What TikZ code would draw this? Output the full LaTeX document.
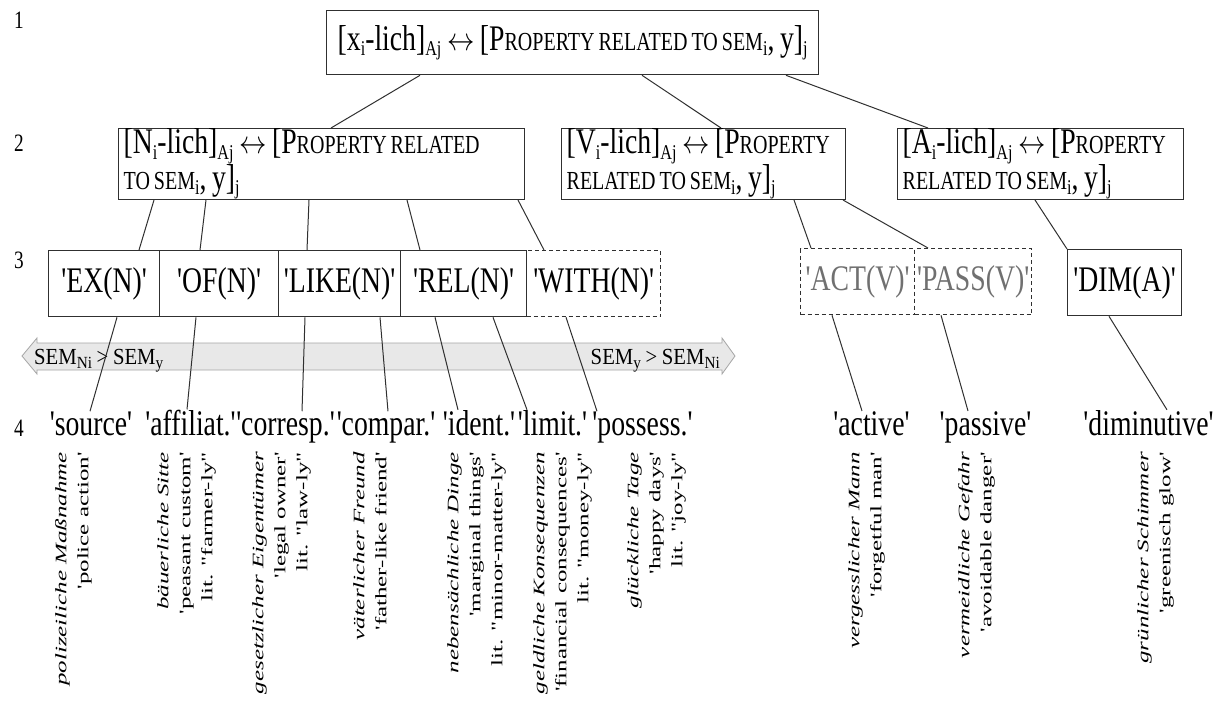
\documentclass[tikz,border=0pt]{standalone}
\usepackage{fontspec}
\newfontfamily\mf{Liberation Serif}[FakeStretch=0.77, WordSpace=0.8]
\newfontfamily\bandf{Liberation Serif}[FakeStretch=0.9, WordSpace=0.9]
\newfontfamily\rotf{Liberation Serif}[FakeStretch=1.56]
\newcommand\sbx[1]{\raisebox{-0.15em}{\fontsize{21}{21}\selectfont #1}}
\newcommand\smc[1]{{\fontsize{26}{26}\selectfont #1}}
\newcommand\sbb[1]{\raisebox{-0.18em}{\fontsize{17}{17}\selectfont #1}}
\newcommand\lr{\scalebox{1.1}[1.3]{$\leftrightarrow$}}
\newcommand\natsp{\spaceskip=0pt\xspaceskip=0pt\relax}
\definecolor{txtgray}{HTML}{707070}
\definecolor{linec}{HTML}{303030}
\tikzset{
  box/.style={draw=linec, line width=1.3pt, inner sep=0pt, font=\mf\fontsize{36}{27}\selectfont},
  dbox/.style={box, dash pattern=on 4pt off 3pt},
  tbox/.style={box, anchor=north west, align=left, inner xsep=5pt},
  conn/.style={draw=linec, line width=1pt},
  lab/.style={font=\mf\fontsize{36}{36}\selectfont, inner sep=0pt, anchor=base},
  exq/.style={rotate=90, anchor=north east, align=right, inner sep=0pt, font=\rotf\fontsize{16}{22}\selectfont},
  num/.style={font=\mf\fontsize{25}{25}\selectfont, inner sep=0pt},
  bandtxt/.style={font=\bandf\fontsize{23}{23}\selectfont, inner sep=0pt},
}
\begin{document}
\begin{tikzpicture}[x=1pt,y=-1pt]
\useasboundingbox (0,0) rectangle (1217,702);
\fill[white] (0,0) rectangle (1217,702);

% level numbers
\node[num] (n1) at (19,20) {1};
\node[num] (n2) at (19,143) {2};
\node[num] (n3) at (19,260) {3};
\node[num] (n4) at (19,428) {4};

% level 1
\node[box, anchor=north west, minimum width=492pt, minimum height=64pt] (top) at (326,10)
  {[x\sbx{i}-lich]\sbx{Aj} \lr{} [P\smc{ROPERTY RELATED TO SEM}\sbx{i}, y]\sbx{j}};

% level 2
\node[tbox, minimum width=406pt, minimum height=60pt, text width=396pt] (N) at (118,128)
  {\natsp\mbox{[N\sbx{i}-lich]\sbx{Aj} \lr{} [P\smc{ROPERTY RELATED}}\\\mbox{\smc{TO SEM}\sbx{i}, y]\sbx{j}}};
\node[tbox, minimum width=284pt, minimum height=62pt, text width=274pt] (V) at (561,128)
  {\natsp\mbox{[V\sbx{i}-lich]\sbx{Aj} \lr{} [P\smc{ROPERTY}}\\\mbox{\smc{RELATED TO SEM}\sbx{i}, y]\sbx{j}}};
\node[tbox, minimum width=286pt, minimum height=64pt, text width=276pt] (A) at (897,128)
  {\natsp\mbox{[A\sbx{i}-lich]\sbx{Aj} \lr{} [P\smc{ROPERTY}}\\\mbox{\smc{RELATED TO SEM}\sbx{i}, y]\sbx{j}}};

% level 3
\node[dbox, anchor=north west, minimum width=134pt, minimum height=66pt] (with) at (526,250) {'WITH(N)'};
\node[box, anchor=north west, minimum width=111pt, minimum height=66pt] (ex) at (48,250) {'EX(N)'};
\node[box, anchor=north west, minimum width=119pt, minimum height=66pt] (of) at (159,250) {'OF(N)'};
\node[box, anchor=north west, minimum width=122pt, minimum height=66pt] (like) at (278,250) {'LIKE(N)'};
\node[box, anchor=north west, minimum width=126pt, minimum height=66pt] (rel) at (400,250) {'REL(N)'};
\node[dbox, anchor=north west, minimum width=114pt, minimum height=66pt, text=txtgray] (act) at (800,248) {'ACT(V)'};
\node[dbox, anchor=north west, minimum width=117pt, minimum height=66pt, text=txtgray] (pass) at (914,248) {'PASS(V)'};
\node[box, anchor=north west, minimum width=114pt, minimum height=66pt] (dim) at (1067,249) {'DIM(A)'};

% band
\draw[draw=black!35, fill=black!9, line width=0.8pt]
  (22,356) -- (37,338) -- (37,343) -- (722,343) -- (722,338) -- (735,356)
  -- (722,374) -- (722,370) -- (37,370) -- (37,374) -- cycle;
\node[bandtxt, anchor=base west] (bl) at (34,364) {SEM\sbb{Ni} > SEM\sbb{y}};
\node[bandtxt, anchor=base east] (br) at (720,364) {SEM\sbb{y} > SEM\sbb{Ni}};

% level 4 labels
\node[lab] (l1) at (91,435) {'source'};
\node[lab] (l2) at (190.5,435) {'affiliat.'};
\node[lab] (l3) at (285.5,435) {'corresp.'};
\node[lab] (l4) at (386,435) {'compar.'};
\node[lab] (l5) at (479,435) {'ident.'};
\node[lab] (l6) at (552.5,435) {'limit.'};
\node[lab] (l7) at (642.5,435) {'possess.'};
\node[lab] (l8) at (871.5,435) {'active'};
\node[lab] (l9) at (985.5,435) {'passive'};
\node[lab] (l10) at (1148.5,435) {'diminutive'};

% examples
\node[exq] (e1) at (55,452) {{\itshape polizeiliche Maßnahme}\\'police action'};
\node[exq] (e2) at (157,452) {{\itshape bäuerliche Sitte}\\'peasant custom'\\lit. "farmer-ly"};
\node[exq] (e3) at (252,452) {{\itshape gesetzlicher Eigentümer}\\'legal owner'\\lit. "law-ly"};
\node[exq] (e4) at (353,452) {{\itshape väterlicher Freund}\\'father-like friend'};
\node[exq] (e5) at (447,452) {{\itshape nebensächliche Dinge}\\'marginal things'\\lit. "minor-matter-ly"};
\node[exq] (e6) at (533,452) {{\itshape geldliche Konsequenzen}\\'financial consequences'\\lit. "money-ly"};
\node[exq] (e7) at (627,452) {{\itshape glückliche Tage}\\'happy days'\\lit. "joy-ly"};
\node[exq] (e8) at (848,452) {{\itshape vergesslicher Mann}\\'forgetful man'};
\node[exq] (e9) at (958,452) {{\itshape vermeidliche Gefahr}\\'avoidable danger'};
\node[exq] (e10) at (1137,452) {{\itshape grünlicher Schimmer}\\'greenisch glow'};

% connectors
\draw[conn] ([xshift=94pt]top.south west) -- ([xshift=213pt]N.north west);
\draw[conn] ([xshift=316pt]top.south west) -- ([xshift=160pt]V.north west);
\draw[conn] ([xshift=460pt]top.south west) -- ([xshift=31pt]A.north west);
\draw[conn] ([xshift=36pt]N.south west) -- ([xshift=91pt]ex.north west);
\draw[conn] ([xshift=88pt]N.south west) -- ([xshift=41pt]of.north west);
\draw[conn] ([xshift=191pt]N.south west) -- ([xshift=29pt]like.north west);
\draw[conn] ([xshift=289pt]N.south west) -- ([xshift=20pt]rel.north west);
\draw[conn] ([xshift=400pt]N.south west) -- ([xshift=18pt]with.north west);
\draw[conn] ([xshift=233pt]V.south west) -- ([xshift=11pt]act.north west);
\draw[conn] ([xshift=282pt]V.south west) -- ([xshift=14pt]pass.north west);
\draw[conn] ([xshift=138pt]A.south west) -- (dim.north west);
\draw[conn] ([xshift=69pt]ex.south west) -- ([xshift=-1pt]l1.north);
\draw[conn] ([xshift=37pt]of.south west) -- ([xshift=-3.5pt]l2.north);
\draw[conn] ([xshift=27pt]like.south west) -- ([xshift=16.5pt]l3.north);
\draw[conn] ([xshift=102pt]like.south west) -- ([xshift=2pt]l4.north);
\draw[conn] ([xshift=35pt]rel.south west) -- ([xshift=-21pt]l5.north);
\draw[conn] ([xshift=93pt]rel.south west) -- ([xshift=-25.5pt]l6.north);
\draw[conn] ([xshift=40pt]with.south west) -- ([xshift=-45.5pt]l7.north);
\draw[conn] ([xshift=32pt]act.south west) -- ([xshift=-9.5pt]l8.north);
\draw[conn] ([xshift=27pt]pass.south west) -- ([xshift=-17.5pt]l9.north);
\draw[conn] ([xshift=42pt]dim.south west) -- ([xshift=18.5pt]l10.north);
\end{tikzpicture}
\end{document}
